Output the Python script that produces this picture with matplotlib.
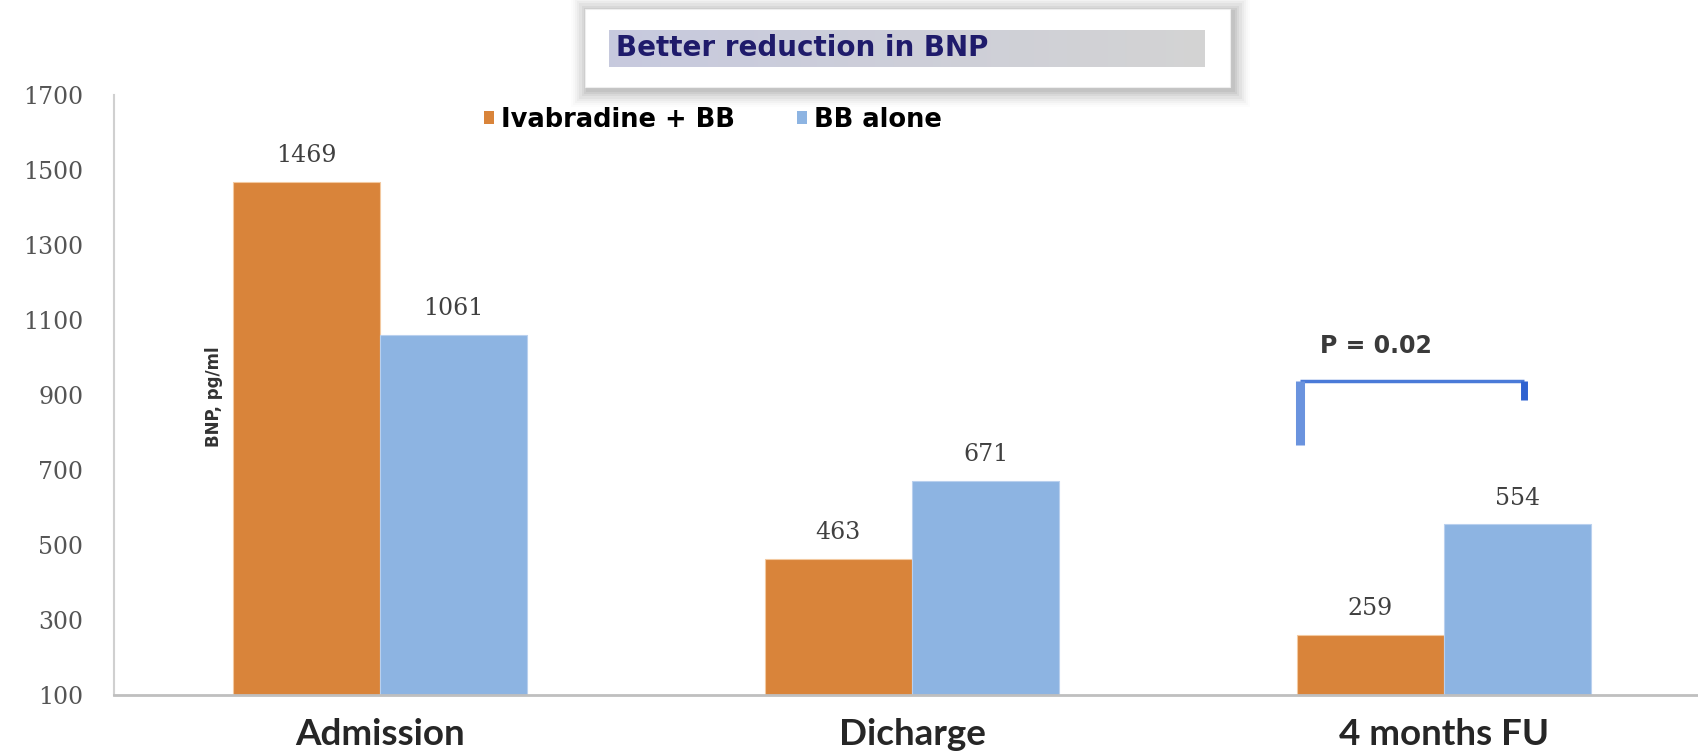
import matplotlib
matplotlib.use("Agg")
import matplotlib.pyplot as plt
import numpy as np
from matplotlib.patches import Patch, Rectangle

# Data
categories = ["Admission", "Dicharge", "4 months FU"]
series_names = ["Ivabradine + BB", "BB alone"]
ivabradine_bb = [1469, 463, 259]
bb_alone = [1061, 671, 554]
y_ticks = [100, 300, 500, 700, 900, 1100, 1300, 1500, 1700]
p_value_text = "P = 0.02"

ORANGE = "#D9843A"
BLUE = "#8DB4E2"

W, H = 1699, 752
fig = plt.figure(figsize=(W / 100, H / 100), dpi=100)
fig.patch.set_facecolor("white")


def fx(px):
    return px / W


def fy(py):
    return 1 - py / H


# Main axes
ax_left, ax_right = 114, 1710
ax_top, ax_bottom = 95.3, 694.5
ax = fig.add_axes([fx(ax_left), fy(ax_bottom), fx(ax_right - ax_left),
                   (ax_bottom - ax_top) / H])
ax.set_facecolor("white")

x = np.arange(len(categories))
bw = 0.277
ax.bar(x - bw / 2, [v - 100 for v in ivabradine_bb], bw, bottom=100,
       color=ORANGE, edgecolor="#F3C9A0", linewidth=0.8, zorder=2)
ax.bar(x + bw / 2, [v - 100 for v in bb_alone], bw, bottom=100,
       color=BLUE, edgecolor="#B9D0EE", linewidth=0.8, zorder=2)

ax.set_xlim(-0.5, len(categories) - 0.5)
ax.set_ylim(100, 1700)
ax.set_yticks(y_ticks)
ax.set_yticklabels([str(t) for t in y_ticks], family="DejaVu Serif",
                   fontsize=17, color="#555555")
ax.tick_params(axis="y", length=0, pad=22)
ax.set_xticks(x)
ax.set_xticklabels(categories, family="Lato", fontweight="bold",
                   fontsize=26.5, color="#262626")
ax.tick_params(axis="x", length=0, pad=17)

for s in ["top", "right"]:
    ax.spines[s].set_visible(False)
ax.spines["left"].set_color("#d0d0d0")
ax.spines["left"].set_linewidth(1.5)
ax.spines["bottom"].set_color("#bfbfbf")
ax.spines["bottom"].set_linewidth(2)

# Value labels above bars
for offs, vals in ((-bw / 2, ivabradine_bb), (bw / 2, bb_alone)):
    for xi, v in zip(x + offs, vals):
        ax.annotate(str(v), (xi, v), xytext=(0, 19), textcoords="offset points",
                    ha="center", va="center", family="DejaVu Serif",
                    fontsize=17, color="#404040")

# Y-axis title placed inside the plot area
fig.text(fx(214), fy(397), "BNP, pg/ml", rotation=90, ha="center",
         va="center", fontsize=12, fontweight="bold", color="#333333",
         family="DejaVu Sans")

# Significance bracket
x_l, x_r = 1.73, 2.15
y_top, y_l, y_r = 937, 766, 886
ax.plot([x_l, x_r], [y_top, y_top], color="#4A7AD8", lw=2.5,
        solid_capstyle="butt", zorder=3)
ax.plot([x_l, x_l], [y_top, y_l], color="#6A93DE", lw=6.5,
        solid_capstyle="butt", zorder=3)
ax.plot([x_r, x_r], [y_top, y_r], color="#2F62D0", lw=5,
        solid_capstyle="butt", zorder=3)
ax.text(1.872, 1030, p_value_text, ha="center", va="center",
        fontsize=17, fontweight="bold", color="#3a3a3a",
        family="DejaVu Sans")

# Legend
handles = [Patch(facecolor=ORANGE), Patch(facecolor=BLUE)]
ax.legend(handles, series_names, loc="center left",
          bbox_to_anchor=(fx(484), fy(120)), bbox_transform=fig.transFigure,
          ncol=2, frameon=False, handlelength=0.38, handleheight=0.38,
          handletextpad=0.3, columnspacing=2.4, borderpad=0,
          borderaxespad=0,
          prop={"family": "DejaVu Sans", "weight": "bold", "size": 18.5})

# Title box with soft shadow
bx0, bx1, by0, by1 = 585, 1230, 9, 87
for i, a in enumerate(np.linspace(0.05, 0.012, 8)):
    d = 2 + i * 2.2
    fig.patches.append(Rectangle((fx(bx0 - d + 3), fy(by1 + d + 3)),
                                 fx(bx1 - bx0 + 2 * d), (by1 - by0 + 2 * d) / H,
                                 transform=fig.transFigure, facecolor="black",
                                 edgecolor="none", alpha=a, zorder=1))
fig.patches.append(Rectangle((fx(bx0), fy(by1)), fx(bx1 - bx0),
                             (by1 - by0) / H, transform=fig.transFigure,
                             facecolor="white", edgecolor="#eeeeee",
                             linewidth=0.8, zorder=2))

# Grey gradient band behind the heading
gx0, gx1, gy0, gy1 = 609, 1205, 30, 67
gax = fig.add_axes([fx(gx0), fy(gy1), fx(gx1 - gx0), (gy1 - gy0) / H],
                   zorder=3)
gax.axis("off")
c_left = np.array([0.78, 0.79, 0.87])
c_right = np.array([0.83, 0.83, 0.83])
t = np.linspace(0, 1, 256)[None, :, None]
grad = c_left * (1 - t) + c_right * t
gax.imshow(grad, aspect="auto", extent=[0, 1, 0, 1])
gax.text(0.012, 0.5, "Better reduction in BNP", transform=gax.transAxes,
         ha="left", va="center", fontsize=20, fontweight="bold",
         color="#1F1B6B", family="DejaVu Sans")

fig.savefig("out.png", dpi=100, facecolor="white")
